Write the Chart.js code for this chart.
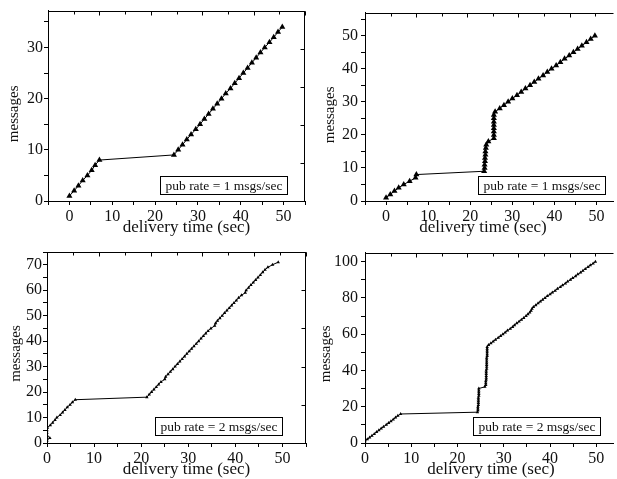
<!DOCTYPE html>
<html>
<head>
<meta charset="utf-8">
<script src="https://cdn.jsdelivr.net/npm/chart.js@4.4.0/dist/chart.umd.min.js"></script>
<style>
  html, body { margin: 0; padding: 0; background: #fff; overflow: hidden; }
  #wrap { position: relative; width: 617px; height: 479px; overflow: hidden; background: #fff; }
  canvas { position: absolute; }
</style>
</head>
<body>
<div id="wrap">
<canvas id="c1" width="310" height="240" style="left:0;top:0"></canvas>
<canvas id="c2" width="307" height="240" style="left:310px;top:0"></canvas>
<canvas id="c3" width="310" height="239" style="left:0;top:240px"></canvas>
<canvas id="c4" width="307" height="239" style="left:310px;top:240px"></canvas>
</div>
<script>
// delivery time (sec) and message count
const time1 = [0, 1.1, 2.1, 3.1, 4.2, 5.2, 6, 7, 24.4, 25.4, 26.4, 27.4, 28.4, 29.5, 30.5, 31.5, 32.5,
  33.5, 34.5, 35.5, 36.5, 37.6, 38.6, 39.6, 40.6, 41.6, 42.6, 43.6, 44.6, 45.6, 46.7, 47.7, 48.7, 49.7];
const msgs1 = [1, 2, 3, 4, 5, 6, 7, 8, 9, 10, 11, 12, 13, 14, 15, 16, 17, 18, 19, 20, 21, 22, 23, 24,
  25, 26, 27, 28, 29, 30, 31, 32, 33, 34];

const time2 = [0, 1, 2, 3, 4.2, 5.6, 7, 7.2, 23.3, 23.4, 23.4, 23.5, 23.5, 23.6, 23.6, 23.7, 23.8, 24.3,
  25.6, 25.6, 25.6, 25.6, 25.6, 25.6, 25.6, 25.6, 25.9, 27, 28, 29, 30, 31.1, 32.1, 33.1, 34.2, 35.2,
  36.2, 37.3, 38.3, 39.3, 40.4, 41.4, 42.4, 43.5, 44.5, 45.5, 46.5, 47.6, 48.6, 49.6];
const msgs2 = [1, 2, 3, 4, 5, 6, 7, 8, 9, 10, 11, 12, 13, 14, 15, 16, 17, 18, 19, 20, 21, 22, 23, 24,
  25, 26, 27, 28, 29, 30, 31, 32, 33, 34, 35, 36, 37, 38, 39, 40, 41, 42, 43, 44, 45, 46, 47, 48, 49, 50];

const time3 = [0, 0.6, 0, 0, 0, 0.1, 0.7, 1.2, 1.7, 2.1, 2.8, 3.3, 3.8, 4.3, 4.9, 5.4, 6.0, 21.2,
  21.7, 22.2, 22.7, 23.2, 23.7, 24.2, 25.0, 25.2, 25.7, 26.2, 26.7, 27.2, 27.7, 28.2, 28.7, 29.2,
  29.7, 30.2, 30.7, 31.2, 31.7, 32.2, 32.7, 33.2, 33.7, 34.2, 34.8, 35.6, 35.8, 36.2, 36.7, 37.2,
  37.7, 38.2, 38.7, 39.2, 39.7, 40.2, 40.7, 41.3, 42.1, 42.3, 42.8, 43.3, 43.8, 44.3, 44.8, 45.3,
  45.8, 46.3, 46.9, 47.9, 49.1];
const msgs3 = [1, 2, 3, 4, 5, 6, 7, 8, 9, 10, 11, 12, 13, 14, 15, 16, 17, 18, 19, 20, 21, 22, 23, 24,
  25, 26, 27, 28, 29, 30, 31, 32, 33, 34, 35, 36, 37, 38, 39, 40, 41, 42, 43, 44, 45, 46, 47, 48, 49,
  50, 51, 52, 53, 54, 55, 56, 57, 58, 59, 60, 61, 62, 63, 64, 65, 66, 67, 68, 69, 70, 71];

const time4 = [0, 0.5, 1, 1.5, 2, 2.5, 3, 3.5, 4, 4.6, 5.1, 5.6, 6.1, 6.6, 7.1, 7.7, 24.3,
  24.4, 24.4, 24.4, 24.5, 24.5, 24.5, 24.5, 24.5, 24.6, 24.6, 24.6, 24.6, 24.6, 25.9,
  26.1, 26.1, 26.1, 26.2, 26.2, 26.2, 26.2, 26.2, 26.2, 26.3, 26.3, 26.3, 26.3, 26.3, 26.3, 26.3,
  26.4, 26.4, 26.4, 26.4, 26.4, 26.4, 26.7, 27.2, 27.7, 28.2, 28.8, 29.3, 29.8, 30.3, 30.8, 31.4,
  31.9, 32.3, 32.8, 33.3, 33.8, 34.3, 34.8, 35.2, 35.6, 35.9, 36.1, 36.4, 36.9, 37.4, 37.9, 38.4,
  38.9, 39.4, 40.0, 40.5, 41.1, 41.6, 42.2, 42.7, 43.3, 43.8, 44.4, 44.9, 45.5, 46.0, 46.6, 47.1,
  47.6, 48.2, 48.7, 49.3, 49.8];
const msgs4 = [1, 2, 3, 4, 5, 6, 7, 8, 9, 10, 11, 12, 13, 14, 15, 16, 17, 18, 19, 20, 21, 22, 23, 24,
  25, 26, 27, 28, 29, 30, 31, 32, 33, 34, 35, 36, 37, 38, 39, 40, 41, 42, 43, 44, 45, 46, 47, 48, 49,
  50, 51, 52, 53, 54, 55, 56, 57, 58, 59, 60, 61, 62, 63, 64, 65, 66, 67, 68, 69, 70, 71, 72, 73, 74,
  75, 76, 77, 78, 79, 80, 81, 82, 83, 84, 85, 86, 87, 88, 89, 90, 91, 92, 93, 94, 95, 96, 97, 98, 99, 100];

const xTitle = 'delivery time (sec)';
const yTitle = 'messages';
const rateLabels = ['pub rate = 1 msgs/sec', 'pub rate = 1 msgs/sec', 'pub rate = 2 msgs/sec', 'pub rate = 2 msgs/sec'];

const serif = "'Liberation Serif', 'Times New Roman', serif";
Chart.defaults.font.family = serif;
Chart.defaults.color = '#111';

// box around the plot, inward ticks on top/right, axis titles and the rate label
const framePlugin = {
  id: 'frame',
  afterDraw(chart, args, opts) {
    const { ctx, chartArea: a, scales } = chart;
    const L = Math.round(a.left) + 0.5, T = Math.round(a.top) + 0.5;
    const R = Math.round(a.right) - 0.5, B = Math.round(a.bottom) + 0.5;
    ctx.save();
    ctx.strokeStyle = '#000';
    ctx.lineWidth = 1;
    ctx.beginPath();
    ctx.moveTo(L, B); ctx.lineTo(L, T); ctx.lineTo(R + 1, T);
    if (opts.rightSide) { ctx.moveTo(R, T); ctx.lineTo(R, B); }

    const top = scales.x2, right = scales.y2;
    for (let v = 1; v <= top.max; v++) {
      const px = Math.round(top.getPixelForValue(v)) + 0.5;
      ctx.moveTo(px, T);
      ctx.lineTo(px, T + (v % 2 ? 3 : 4));
    }
    if (opts.rightSide) {
      for (let v = 1; v < right.max; v++) {
        const py = Math.round(right.getPixelForValue(v)) + 0.5;
        ctx.moveTo(R, py);
        ctx.lineTo(R - 4, py);
      }
    }
    ctx.stroke();

    // axis titles
    ctx.fillStyle = '#111';
    ctx.textAlign = 'center';
    ctx.textBaseline = 'middle';
    ctx.font = '17px ' + serif;
    ctx.fillText(xTitle, (a.left + a.right) / 2 + opts.xTitleShift, a.bottom + 27);
    ctx.save();
    ctx.translate(opts.yTitleX, (a.top + a.bottom) / 2 + opts.yTitleShift);
    ctx.rotate(-Math.PI / 2);
    ctx.font = '15px ' + serif;
    ctx.fillText(yTitle, 0, 0);
    ctx.restore();

    // rate label box
    ctx.font = '13.5px ' + serif;
    ctx.textAlign = 'left';
    const w = Math.round(ctx.measureText(opts.text).width) + 10;
    const h = 18;
    const bx = Math.round(a.left + opts.left) + 0.5;
    const by = Math.round(a.bottom - opts.bottom - h) + 0.5;
    ctx.fillStyle = '#fff';
    ctx.fillRect(bx, by, w, h);
    ctx.strokeRect(bx, by, w, h);
    ctx.fillStyle = '#111';
    ctx.fillText(opts.text, bx + 5, by + h / 2 + 1);
    ctx.restore();
  }
};

function makeChart(id, xs, ys, cfg) {
  const points = xs.map((x, i) => ({ x: x, y: ys[i] }));
  return new Chart(document.getElementById(id), {
    type: 'line',
    data: {
      datasets: [{
        data: points,
        borderColor: '#000',
        borderWidth: 1,
        backgroundColor: '#000',
        pointBackgroundColor: '#000',
        pointBorderColor: '#000',
        pointBorderWidth: 0,
        pointStyle: 'triangle',
        pointRadius: cfg.radius,
        tension: 0,
        fill: false
      }]
    },
    options: {
      responsive: false,
      animation: false,
      devicePixelRatio: 1,
      layout: { padding: cfg.padding },
      plugins: {
        legend: { display: false },
        tooltip: { enabled: false },
        frame: {
          text: cfg.label, left: cfg.boxLeft, bottom: cfg.boxBottom, rightSide: cfg.rightSide,
          xTitleShift: cfg.xTitleShift, yTitleX: cfg.yTitleX, yTitleShift: cfg.yTitleShift
        }
      },
      scales: {
        x: {
          type: 'linear',
          min: cfg.xMin, max: cfg.xMax,
          afterFit: s => { s.height = cfg.xHeight; },
          grid: { drawOnChartArea: false, tickLength: 4, color: '#000' },
          border: { display: true, color: '#000' },
          ticks: {
            stepSize: 5, includeBounds: false, padding: 2, maxRotation: 0, autoSkip: false,
            font: { size: 16 },
            callback: v => (v % 10 === 0 && v >= 0 && v <= 50) ? String(v) : ''
          },
          title: { display: false }
        },
        y: {
          type: 'linear',
          min: 0, max: cfg.yMax,
          afterFit: s => { s.width = cfg.yWidth; },
          grid: { drawOnChartArea: false, tickLength: 4, color: '#000' },
          border: { display: true, color: '#000' },
          ticks: {
            stepSize: cfg.yStep, includeBounds: false, padding: cfg.yTickPad, autoSkip: false,
            font: { size: 16 },
            callback: v => (v % cfg.yLabelStep === 0) ? String(v) : ''
          },
          title: { display: false }
        },
        x2: { type: 'linear', display: false, position: 'top', min: 0, max: cfg.topMax },
        y2: { type: 'linear', display: false, position: 'right', min: 0, max: 5 }
      }
    },
    plugins: [framePlugin]
  });
}

makeChart('c1', time1, msgs1, {
  radius: 3.5, label: rateLabels[0], boxLeft: 112, boxBottom: 7, rightSide: true,
  padding: { top: 8, right: 5, left: 0, bottom: 0 }, xHeight: 39, yWidth: 48, yTickPad: 1,
  xMin: -5, xMax: 55, yMax: 37.2, yStep: 5, yLabelStep: 10, topMax: 10,
  xTitleShift: 10, yTitleX: 14, yTitleShift: 8
});
makeChart('c2', time2, msgs2, {
  radius: 3.5, label: rateLabels[1], boxLeft: 113, boxBottom: 7, rightSide: false,
  padding: { top: 8, right: 0, left: 0, bottom: 0 }, xHeight: 39, yWidth: 55, yTickPad: 3,
  xMin: -5, xMax: 53.9, yMax: 57, yStep: 5, yLabelStep: 10, topMax: 9.7,
  xTitleShift: -6, yTitleX: 20, yTitleShift: 8
});
makeChart('c3', time3, msgs3, {
  radius: 2, label: rateLabels[2], boxLeft: 108, boxBottom: 8, rightSide: true,
  padding: { top: 12, right: 4, left: 0, bottom: 0 }, xHeight: 36, yWidth: 47, yTickPad: 1,
  xMin: 0, xMax: 55, yMax: 75, yStep: 5, yLabelStep: 10, topMax: 10,
  xTitleShift: 10, yTitleX: 16, yTitleShift: 6
});
makeChart('c4', time4, msgs4, {
  radius: 2, label: rateLabels[3], boxLeft: 108, boxBottom: 8, rightSide: false,
  padding: { top: 12, right: 0, left: 0, bottom: 0 }, xHeight: 36, yWidth: 55, yTickPad: 3,
  xMin: 0, xMax: 53.6, yMax: 105, yStep: 10, yLabelStep: 20, topMax: 9.7,
  xTitleShift: 2, yTitleX: 16, yTitleShift: 6
});
</script>
</body>
</html>
